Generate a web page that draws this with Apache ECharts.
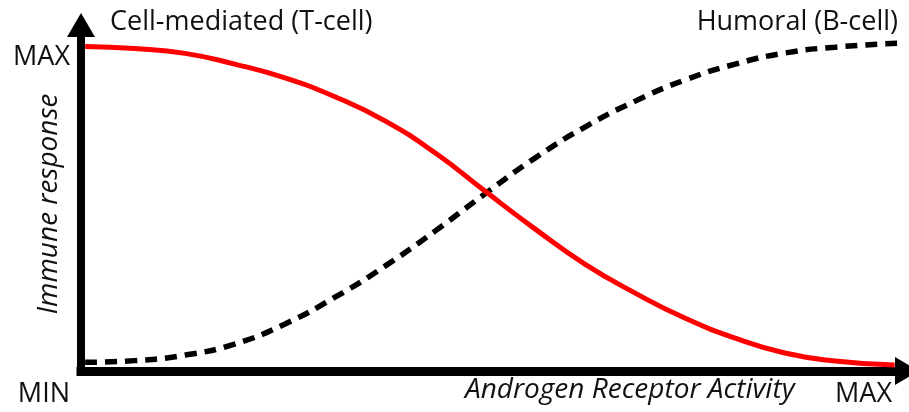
<!DOCTYPE html>
<html>
<head>
<meta charset="utf-8">
<script src="https://cdn.jsdelivr.net/npm/echarts@6/dist/echarts.min.js"></script>
<style>
html,body{margin:0;padding:0;background:#fff;}
#chart{width:909px;height:412px;}
</style>
</head>
<body>
<div id="chart"></div>
<script>
// Androgen Receptor Activity positions (0..100 scale)
var xCell = [0.5, 6.5, 12.6, 18.6, 24.7, 30.8, 36.8, 42.9, 48.9, 55.0, 61.0, 67.1, 73.1, 79.2, 85.2, 91.3, 98.5];
// Cell-mediated (T-cell) immune response (0..100 scale)
var cellMediated = [93.8, 93.2, 91.8, 88.7, 84.7, 79.2, 72.3, 63.0, 52.0, 41.0, 30.9, 22.5, 15.3, 9.5, 5.2, 2.9, 1.7];
var xHumoral = [0.5, 6.5, 12.6, 18.6, 24.7, 30.8, 36.8, 42.9, 48.9, 55.0, 61.0, 67.1, 73.1, 79.2, 85.2, 91.3, 98.8];
// Humoral (B-cell) immune response (0..100 scale)
var humoral = [2.5, 3.0, 4.6, 7.8, 13.6, 21.4, 30.3, 40.5, 51.2, 61.6, 70.5, 78.0, 84.1, 88.7, 91.9, 93.6, 94.7];
// Labels
var seriesNames = ['Cell-mediated (T-cell)', 'Humoral (B-cell)'];
var yTickLabels = ['MIN', 'MAX'];
var xTickLabels = ['MAX'];
var xAxisTitle = 'Androgen Receptor Activity';
var yAxisTitle = 'Immune response';

function pairs(xs, ys) { return xs.map(function (x, i) { return [x, ys[i]]; }); }

var FONT = '"Open Sans", "Noto Sans", sans-serif';
var chart = echarts.init(document.getElementById('chart'), null, { renderer: 'canvas' });
chart.setOption({
  animation: false,
  backgroundColor: '#ffffff',
  grid: { left: 81, right: 2, top: 25, bottom: 41, containLabel: false },
  xAxis: {
    type: 'value', min: 0, max: 100,
    splitLine: { show: false }, axisTick: { show: false }, axisLabel: { show: false },
    axisLine: { show: true, symbol: ['none', 'triangle'], symbolSize: [28, 24],
      lineStyle: { color: '#000', width: 9, cap: 'square' } }
  },
  yAxis: {
    type: 'value', min: 0, max: 100,
    splitLine: { show: false }, axisTick: { show: false }, axisLabel: { show: false },
    axisLine: { show: true, symbol: ['none', 'triangle'], symbolSize: [28, 24],
      lineStyle: { color: '#000', width: 8, cap: 'square' } }
  },
  series: [
    {
      name: seriesNames[0], type: 'line', smooth: 0.5, symbol: 'none',
      data: pairs(xCell, cellMediated),
      lineStyle: { color: '#ff0000', width: 5 }, z: 3
    },
    {
      name: seriesNames[1], type: 'line', smooth: 0.5, symbol: 'none',
      data: pairs(xHumoral, humoral),
      lineStyle: { color: '#000', width: 5.5, type: [12, 8] }, z: 2
    }
  ],
  graphic: [
    { type: 'text', left: 110, top: 9, style: { text: seriesNames[0], font: '27px ' + FONT, fill: '#111' } },
    { type: 'text', right: 11, top: 9, style: { text: seriesNames[1], font: '27px ' + FONT, fill: '#111' } },
    { type: 'text', right: 839, top: 44, style: { text: yTickLabels[1], font: '27px ' + FONT, fill: '#111' } },
    { type: 'text', right: 839, top: 381, style: { text: yTickLabels[0], font: '27px ' + FONT, fill: '#111' } },
    { type: 'text', right: 17, top: 381, style: { text: xTickLabels[0], font: '27px ' + FONT, fill: '#111' } },
    { type: 'text', left: 465, top: 376, style: { text: xAxisTitle, font: 'italic 28px ' + FONT, fill: '#111' } },
    { type: 'text', x: 49, y: 204, rotation: Math.PI / 2,
      style: { text: yAxisTitle, font: 'italic 28px ' + FONT, fill: '#111', align: 'center', verticalAlign: 'middle' } }
  ]
});
</script>
</body>
</html>
